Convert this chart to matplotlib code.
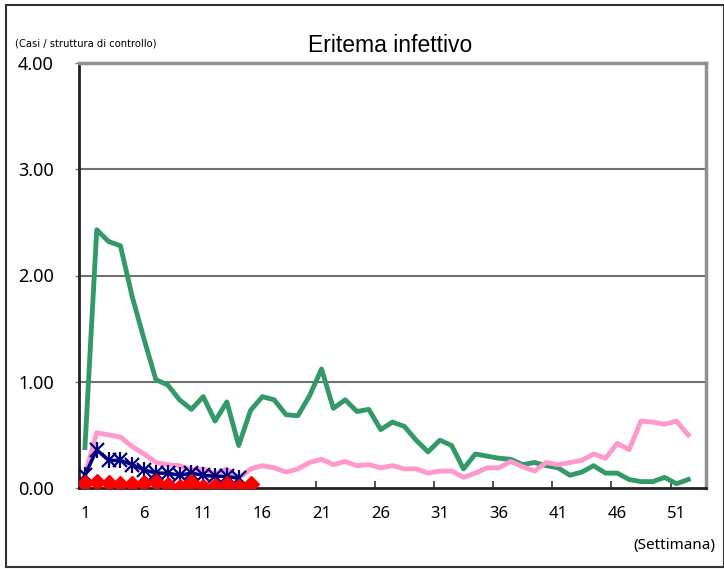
import matplotlib
matplotlib.use("Agg")
import matplotlib.pyplot as plt
import numpy as np
from matplotlib.patches import Rectangle


# weekly cases per sentinel site
weeks_full = np.arange(1, 53)
green_vals = [
    0.38, 2.43, 2.32, 2.28, 1.80, 1.40, 1.02, 0.97, 0.83, 0.74,
    0.86, 0.63, 0.81, 0.40, 0.73, 0.86, 0.83, 0.69, 0.68, 0.87,
    1.12, 0.75, 0.83, 0.72, 0.74, 0.55, 0.62, 0.58, 0.45, 0.34,
    0.45, 0.40, 0.18, 0.32, 0.30, 0.28, 0.27, 0.22, 0.24, 0.21,
    0.19, 0.12, 0.15, 0.21, 0.14, 0.14, 0.08, 0.06, 0.06, 0.10,
    0.04, 0.08,
]
pink_vals = [
    0.12, 0.52, 0.50, 0.48, 0.39, 0.32, 0.24, 0.22, 0.21, 0.17,
    0.18, 0.13, 0.18, 0.09, 0.18, 0.21, 0.19, 0.15, 0.18, 0.24,
    0.27, 0.22, 0.25, 0.21, 0.22, 0.19, 0.21, 0.18, 0.18, 0.14,
    0.16, 0.16, 0.10, 0.14, 0.19, 0.19, 0.25, 0.20, 0.16, 0.24,
    0.22, 0.24, 0.26, 0.32, 0.28, 0.42, 0.36, 0.63, 0.62, 0.60,
    0.63, 0.50,
]
navy_vals = [0.12, 0.36, 0.26, 0.26, 0.22, 0.17, 0.14, 0.14, 0.12, 0.14,
             0.12, 0.11, 0.11, 0.09]
red_vals = [0.05, 0.06, 0.044, 0.035, 0.04, 0.05, 0.06, 0.03, 0.012, 0.06,
            0.012, 0.02, 0.04, 0.012, 0.04]

x_labels = [1, 6, 11, 16, 21, 26, 31, 36, 41, 46, 51]
y_ticks = [0.0, 1.0, 2.0, 3.0, 4.0]

W, H = 724, 569
fig = plt.figure(figsize=(W / 100, H / 100), dpi=100)
ax = fig.add_axes([79 / W, 1 - 488 / H, (706 - 79) / W, (488 - 63) / H])

ax.plot(weeks_full, green_vals, color="#339966", linewidth=3.5, zorder=3)
ax.plot(weeks_full, pink_vals, color="#ff99cc", linewidth=3.5, zorder=3)

navy_weeks = np.arange(1, len(navy_vals) + 1)
ax.plot(navy_weeks, navy_vals, color="#000080", linewidth=2.5, marker="x",
        markersize=10, markeredgewidth=1.6, zorder=4)
ax.plot(navy_weeks, navy_vals, linestyle="none", color="#000080", marker="|",
        markersize=11, markeredgewidth=1.6, zorder=4)

red_weeks = np.arange(1, len(red_vals) + 1)
ax.plot(red_weeks, red_vals, color="#ff0000", linewidth=2.5, marker="D",
        markersize=8, zorder=5)

ax.set_xlim(0.5, 53.5)
ax.set_ylim(0, 4)
ax.set_yticks(y_ticks)
ax.set_yticklabels([f"{v:.2f}" for v in y_ticks], fontsize=13, family="Noto Sans")
ax.tick_params(axis="y", direction="out", length=3, width=1.0, color="#777777", pad=15)

ax.set_xticks(x_labels)
ax.set_xticklabels([str(v) for v in x_labels], fontsize=12, family="Noto Sans",
                   fontstretch="condensed")
ax.tick_params(axis="x", which="major", length=0, pad=13)
ax.set_xticks(np.arange(5.5, 53, 5), minor=True)
ax.tick_params(axis="x", which="minor", direction="in", length=5, width=1.2, color="#333333")

for v in [1.0, 2.0, 3.0]:
    ax.axhline(v, color="#707070", linewidth=1.5, zorder=1)

ax.spines["left"].set_color("#222222")
ax.spines["bottom"].set_color("#222222")
ax.spines["left"].set_linewidth(2.0)
ax.spines["bottom"].set_linewidth(2.0)
ax.spines["top"].set_color("#909090")
ax.spines["right"].set_color("#909090")
ax.spines["top"].set_linewidth(2.5)
ax.spines["right"].set_linewidth(2.5)

fig.text(390 / W, 1 - 45 / H, "Eritema infettivo", ha="center", va="center",
         fontsize=16.5, family="Liberation Sans")
fig.text(15 / W, 1 - 44 / H, "(Casi / struttura di controllo)", ha="left", va="center",
         fontsize=8, family="DejaVu Sans", fontstretch="condensed")
fig.text(715 / W, 1 - 545 / H, "(Settimana)", ha="right", va="center",
         fontsize=11, family="Noto Sans")

fig.patches.append(Rectangle((6 / W, 1 - 567 / H), (724 - 6) / W, (567 - 5) / H,
                             transform=fig.transFigure, fill=False,
                             edgecolor="#333333", linewidth=1.5))

fig.savefig("out.png", dpi=100)
plt.close(fig)
